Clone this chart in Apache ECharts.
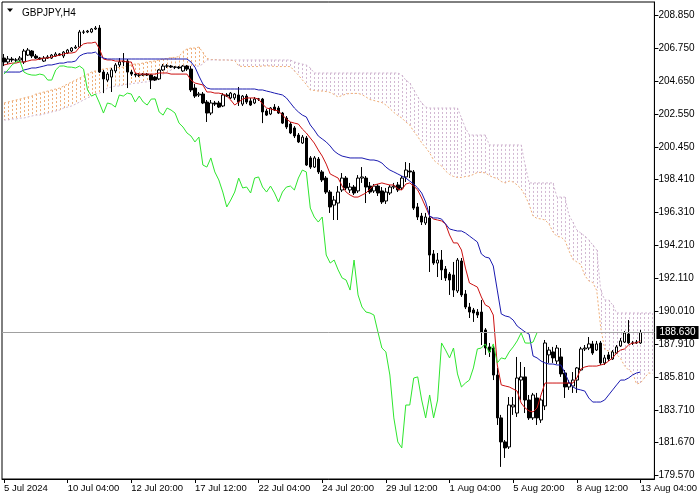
<!DOCTYPE html>
<html><head><meta charset="utf-8">
<script src="https://cdn.jsdelivr.net/npm/echarts@6/dist/echarts.min.js"></script>
<style>html,body{margin:0;padding:0;background:#fff}#c{width:700px;height:500px}</style>
</head><body><div id="c"></div>
<script>
// [open, close, low, high]
const candles = [
[206.11,205.86,205.60,206.37],[205.86,206.05,205.73,206.24],[206.05,205.99,205.86,206.18],[205.99,205.98,205.86,206.11],[205.99,206.11,205.86,206.24],
[205.86,206.56,205.73,206.69],[206.30,206.62,206.24,206.75],[206.56,206.24,206.11,206.62],[206.24,206.11,206.05,206.37],[206.11,206.05,205.99,206.18],
[205.92,206.11,205.86,206.24],[206.11,206.18,206.05,206.30],[206.11,206.30,206.05,206.37],[206.24,206.37,206.18,206.49],[206.37,206.30,206.24,206.43],
[206.24,206.49,206.11,206.56],[206.43,206.62,206.37,206.69],[206.56,206.75,206.49,206.81],[206.75,206.81,206.69,206.94],[206.81,207.77,206.75,207.90],
[207.77,207.76,207.64,207.90],[207.77,207.83,207.70,207.90],[207.77,207.96,207.70,208.02],[207.96,208.02,207.90,208.15],[208.02,205.22,205.16,208.21],
[205.22,204.78,203.88,205.35],[204.71,205.09,204.59,205.22],[204.90,205.35,203.95,205.48],[205.29,205.67,205.16,205.79],[205.67,205.86,205.54,206.11],
[205.86,205.92,205.60,206.43],[205.92,205.22,204.20,206.05],[205.22,205.09,204.97,205.35],[205.09,205.03,204.90,205.16],[205.03,205.02,204.90,205.16],
[205.03,205.09,204.97,205.16],[205.09,205.03,204.97,205.16],[205.03,204.71,204.14,205.09],[204.90,204.71,204.65,204.97],[204.78,205.35,204.71,205.41],
[205.35,205.60,205.29,205.73],[205.60,205.61,205.48,205.73],[205.60,205.54,205.48,205.67],[205.54,205.53,205.41,205.60],[205.54,205.48,205.41,205.60],
[205.29,205.60,205.22,205.67],[205.60,205.41,205.29,205.67],[205.41,204.08,203.95,205.60],[204.20,203.69,203.57,204.46],[203.76,203.82,203.63,203.95],
[203.82,203.25,203.18,203.95],[203.31,202.61,202.04,203.44],[202.61,203.25,202.48,203.44],[203.25,203.18,203.06,203.38],[203.25,202.99,202.93,203.38],
[203.06,203.76,202.99,203.88],[203.76,203.69,203.63,203.88],[203.57,203.88,203.50,203.95],[203.57,203.82,203.44,203.88],[203.76,203.31,203.06,204.27],
[203.18,203.69,203.06,203.76],[203.69,203.31,203.18,203.82],[203.38,203.12,203.06,203.57],[203.25,203.50,203.18,203.63],[203.50,203.51,203.38,203.57],
[203.50,202.68,201.97,203.57],[202.74,202.48,202.42,202.87],[202.55,202.93,202.48,202.99],[202.99,202.80,202.74,203.18],[202.93,202.61,202.55,203.06],
[202.61,201.97,201.91,202.68],[202.29,201.72,201.59,202.42],[201.91,201.34,201.27,202.04],[201.66,201.15,201.02,201.78],[201.21,200.77,200.70,201.34],
[200.70,201.08,200.64,201.21],[201.02,199.30,199.24,201.15],[199.75,199.17,199.05,199.87],[199.17,199.75,199.11,199.87],[199.68,198.86,198.73,199.81],
[198.86,198.35,198.22,198.98],[198.47,197.58,197.46,198.60],[197.58,196.63,196.25,197.71],[196.75,197.07,195.80,197.33],[196.88,197.58,195.80,197.96],
[197.71,198.47,197.58,198.79],[198.47,197.84,197.71,198.60],[197.71,197.90,197.52,198.16],[197.90,197.52,197.39,198.03],[197.65,198.47,197.52,198.66],
[198.47,198.54,198.16,199.17],[198.47,197.90,196.88,198.60],[197.96,197.58,197.46,198.22],[197.65,197.96,197.52,198.09],[197.96,197.52,197.33,198.09],
[197.65,196.95,196.82,197.90],[197.01,197.58,196.82,197.84],[197.52,197.90,197.39,198.03],[197.90,197.96,197.77,198.16],[198.03,197.71,197.58,198.22],
[197.84,198.47,197.71,198.60],[198.54,198.98,198.22,199.49],[198.92,198.86,198.47,199.43],[198.86,196.56,196.44,198.98],[196.63,195.99,195.80,196.88],
[196.05,195.67,195.48,196.25],[195.61,195.99,195.48,196.25],[195.93,193.57,192.49,196.69],[193.64,193.06,192.94,193.89],[193.06,193.25,192.17,193.70],
[193.25,192.62,191.98,193.89],[192.68,192.11,191.92,192.87],[192.36,191.98,191.03,192.49],[192.30,191.34,190.90,193.13],[191.28,193.25,191.15,193.38],
[193.19,191.03,190.90,193.38],[191.09,190.26,190.13,191.34],[190.26,189.94,189.56,190.52],[190.07,189.88,189.31,190.20],[189.94,189.75,189.56,190.13],
[189.94,188.67,187.84,190.71],[188.80,187.65,187.21,188.92],[187.72,187.40,187.08,187.97],[187.65,185.93,185.61,187.78],[185.93,183.20,182.75,186.38],
[183.20,181.67,180.08,183.39],[181.67,181.29,180.65,181.79],[181.35,184.02,181.22,184.53],[183.90,184.02,183.39,184.53],[183.51,185.74,183.26,187.08],
[185.61,185.81,184.34,186.76],[185.81,184.34,183.51,186.44],[184.34,183.20,183.07,184.66],[183.20,184.66,183.07,184.79],[184.47,183.20,182.75,184.79],
[183.07,184.34,182.88,184.47],[183.96,187.97,183.70,188.16],[187.21,187.52,186.70,187.72],[187.40,187.02,186.70,187.72],[186.82,187.65,186.63,187.84],
[187.08,186.00,185.81,187.65],[186.06,185.17,184.47,186.25],[185.17,185.42,184.98,185.61],[185.23,185.61,184.79,186.12],[185.61,186.38,184.79,186.44],
[186.25,187.59,186.19,187.72],[187.59,187.65,187.46,187.84],[187.65,187.91,187.52,188.35],[187.91,187.33,187.21,188.10],[187.52,187.91,187.46,188.10],
[187.97,186.70,186.57,188.10],[186.70,187.02,186.57,187.21],[187.21,186.95,186.82,187.40],[186.95,187.40,186.89,187.52],[187.33,187.72,187.27,187.84],
[187.78,188.10,187.72,188.29],[188.03,188.61,187.97,188.73],[188.54,187.97,187.91,189.43],[187.97,187.96,187.84,188.10],[187.97,188.03,187.91,188.16],
[187.97,188.63,187.91,188.80]
];
const tenkan = [
205.67,205.73,205.79,205.79,205.86,205.86,205.92,205.99,205.99,206.05,
206.11,206.11,206.18,206.24,206.30,206.37,206.43,206.43,206.49,206.81,
207.01,207.07,207.07,207.13,206.69,206.05,205.99,205.99,205.92,205.92,
205.92,205.86,205.86,205.16,205.09,205.09,205.09,205.09,205.09,205.16,
205.16,205.16,205.09,205.09,205.09,205.09,205.09,204.71,204.52,204.46,
204.40,203.95,203.95,203.88,203.88,203.82,203.69,203.44,203.12,203.31,
203.50,203.57,203.57,203.57,203.50,203.18,202.93,202.87,202.80,202.74,
202.48,202.23,202.04,201.97,201.91,201.59,201.34,201.02,200.70,200.26,
199.87,199.36,198.73,198.60,198.47,197.96,197.58,197.39,197.26,197.26,
197.39,197.52,197.77,198.03,198.09,198.16,198.09,198.03,198.03,197.77,
197.71,198.09,198.16,197.96,197.71,197.20,196.63,196.05,195.86,195.80,
195.74,195.55,194.85,194.34,194.34,193.89,192.74,191.79,191.66,191.53,
190.90,190.39,190.26,189.75,186.57,185.30,185.23,185.17,185.04,184.91,
184.15,183.83,183.64,183.58,183.83,184.66,185.42,185.42,185.42,185.42,
185.42,185.42,185.42,185.42,185.74,186.31,186.44,186.50,186.50,186.50,
186.57,186.63,186.82,187.02,187.33,187.52,187.59,187.84,187.97,187.97,
188.10];
const kijun = [
205.22,205.22,205.22,205.22,205.22,205.35,205.41,205.48,205.48,205.54,
205.60,205.67,205.67,205.73,205.79,205.79,205.86,205.86,205.92,206.24,
206.37,206.43,206.43,206.49,206.24,206.11,206.05,206.05,206.05,206.05,
206.05,206.05,206.05,206.05,206.05,206.05,206.05,206.05,206.05,206.05,
206.05,206.05,206.05,206.05,206.05,206.05,206.05,205.86,205.54,204.97,
204.46,204.20,204.14,204.14,204.14,204.14,204.14,204.14,204.14,204.14,
204.14,204.14,204.14,204.14,204.08,204.08,204.01,203.95,203.88,203.82,
203.76,203.57,203.25,202.93,202.68,202.48,202.36,201.85,201.53,201.15,
200.96,200.77,200.51,200.19,200.00,199.87,199.81,199.75,199.75,199.75,
199.75,199.68,199.62,199.62,199.56,199.43,199.17,198.98,198.86,198.73,
198.60,198.47,198.28,198.09,197.84,197.52,196.95,196.05,195.93,195.93,
195.86,195.55,195.23,195.16,195.10,195.10,194.97,194.78,194.59,194.40,
193.64,193.44,193.38,192.87,191.34,189.82,189.69,189.63,189.43,189.05,
188.86,188.67,188.54,187.14,187.02,186.82,186.70,186.63,186.63,186.57,
186.57,186.06,185.49,185.17,185.04,184.98,184.91,184.47,184.21,184.21,
184.21,184.34,184.66,184.98,185.30,185.61,185.61,185.74,185.93,186.06,
186.12];
const senkouA = [
203.25,203.31,203.38,203.44,203.50,203.57,203.63,203.69,203.82,203.88,
203.95,204.01,204.08,204.14,204.20,204.33,204.46,204.59,204.71,204.84,
204.97,205.09,205.22,205.29,205.35,205.41,205.45,205.48,205.51,205.51,
205.54,205.61,205.67,205.74,205.74,205.80,205.86,205.89,205.93,205.99,
206.05,206.08,206.15,206.15,206.21,206.53,206.69,206.75,206.75,206.81,
206.47,206.08,206.02,206.02,205.99,205.99,205.99,205.96,205.96,205.61,
205.57,205.57,205.57,205.57,205.57,205.61,205.61,205.61,205.57,205.57,
205.57,205.57,205.57,205.29,205.03,204.72,204.43,204.08,204.05,204.01,
204.01,203.98,203.92,203.79,203.63,203.73,203.82,203.86,203.86,203.86,
203.79,203.63,203.47,203.41,203.34,203.28,203.12,202.90,202.65,202.45,
202.30,202.04,201.85,201.44,201.12,200.71,200.42,200.07,199.62,199.40,
199.24,198.92,198.70,198.57,198.51,198.51,198.57,198.60,198.70,198.83,
198.83,198.80,198.63,198.51,198.45,198.25,198.16,198.28,198.22,198.03,
197.78,197.36,196.79,196.05,195.90,195.87,195.80,195.55,195.04,194.75,
194.72,194.50,193.86,193.29,193.13,192.97,192.27,191.92,191.82,191.31,
188.96,187.56,187.46,187.40,187.24,186.98,186.51,186.25,186.09,185.36,
185.43,185.74,186.06,186.03];
const senkouB = [
202.17,202.17,202.23,202.23,202.29,202.29,202.36,202.42,202.48,202.48,
202.55,202.61,202.68,202.74,202.80,202.93,202.99,203.06,203.18,203.31,
203.44,203.57,203.69,203.82,203.88,204.01,204.20,204.27,204.33,204.33,
204.40,204.46,204.46,204.52,204.52,204.59,204.59,204.65,204.71,204.84,
205.09,205.22,205.35,205.48,205.54,205.60,205.60,205.60,205.60,205.60,
205.73,205.99,205.99,205.99,205.99,205.99,205.99,205.99,205.99,205.99,
205.99,205.99,205.99,205.99,205.99,205.99,205.99,205.99,205.99,205.99,
205.99,205.99,205.99,205.86,205.79,205.73,205.67,205.48,205.16,205.16,
205.16,205.16,205.16,205.16,205.16,205.16,205.16,205.16,205.16,205.16,
205.16,205.16,205.16,205.16,205.16,205.16,205.16,205.16,205.16,205.16,
205.03,204.71,204.52,204.08,203.63,203.25,202.99,202.93,202.93,202.93,
202.93,202.93,202.93,202.93,202.93,202.29,201.66,201.21,201.21,201.21,
201.21,201.21,200.58,200.58,200.58,200.58,200.58,200.58,200.58,200.58,
200.58,199.30,198.16,198.16,198.16,198.16,198.16,198.16,198.16,197.26,
197.26,197.26,196.12,195.67,195.16,194.97,194.78,194.53,194.21,193.89,
191.34,190.71,190.71,190.39,189.88,189.88,189.88,189.88,189.88,189.88,
189.88,189.88,189.88,189.88];
const xTickIndex = [0,16,32,48,64,80,96,112,128,144,160];
const xTickText = ['5 Jul 2024','10 Jul 04:00','12 Jul 20:00','17 Jul 12:00','22 Jul 04:00','24 Jul 20:00','29 Jul 12:00','1 Aug 04:00','5 Aug 20:00','8 Aug 12:00','13 Aug 04:00'];
const yTickValues = [208.85,206.75,204.65,202.55,200.45,198.41,196.31,194.21,192.11,190.01,187.91,185.81,183.71,181.67,179.57];
const lastPrice = 188.63;
const chikouShift = 26;

const nBars = senkouA.length;
const categories = Array.from({length: nBars}, (_, i) => i);
const chikou = candles.slice(chikouShift).map(d => d[1]);
const cloud = senkouA.map((a, i) => [i, a, senkouB[i]]);
const FONT = 'Liberation Sans';
const UP_KUMO = ['#efae78', '#efae79'];
const DN_KUMO = ['#d2b8d2', '#d2b8d3'];

const chart = echarts.init(document.getElementById('c'), null, {renderer: 'canvas'});
chart.setOption({
  animation: false,
  backgroundColor: '#fff',
  title: {text: 'GBPJPY,H4', left: 17, top: 3,
    textStyle: {fontSize: 10, fontWeight: 'normal', fontFamily: FONT, color: '#000'}},
  graphic: [{type: 'polygon', shape: {points: [[7, 8.5], [13, 8.5], [10, 12]]}, style: {fill: '#000'}}],
  grid: {left: 2, right: 45, top: 2, bottom: 21, show: true, borderColor: '#000', borderWidth: 1, containLabel: false},
  xAxis: {
    type: 'category', data: categories, boundaryGap: true,
    axisLine: {show: true, lineStyle: {color: '#000', width: 1}},
    axisTick: {show: true, alignWithLabel: true, length: 4, interval: (i) => xTickIndex.includes(i), lineStyle: {color: '#000'}},
    axisLabel: {show: true, interval: (i) => xTickIndex.includes(i), align: 'left', margin: 4,
      color: '#000', fontSize: 9.5, fontFamily: FONT,
      formatter: (v) => { const k = xTickIndex.indexOf(Number(v)); return k >= 0 ? xTickText[k] : ''; }},
    splitLine: {show: false}
  },
  yAxis: {
    type: 'value', position: 'right', min: 179.31, max: 209.68,
    axisLine: {show: true, lineStyle: {color: '#000', width: 1}},
    axisTick: {show: true, length: 4, customValues: yTickValues, lineStyle: {color: '#000'}},
    axisLabel: {show: true, customValues: yTickValues, margin: 4, color: '#000', fontSize: 10, fontFamily: FONT,
      formatter: (v) => v.toFixed(3)},
    splitLine: {show: false}
  },
  series: [
    {
      type: 'custom', name: 'Kumo', data: cloud, silent: true, z: 1,
      encode: {x: 0, y: [1, 2]},
      renderItem: function (params, api) {
        const i = api.value(0), a = api.value(1), b = api.value(2);
        const pa = api.coord([i, a]), pb = api.coord([i, b]);
        const x = Math.round(pa[0]) + 0.5;
        const pal = a >= b ? UP_KUMO : DN_KUMO;
        return {type: 'line', shape: {x1: x, y1: Math.min(pa[1], pb[1]), x2: x, y2: Math.max(pa[1], pb[1])},
          style: {stroke: pal[params.dataIndex % 2], fill: null, lineWidth: 1, lineDash: [2, 2]}};
      }
    },
    {type: 'line', name: 'Senkou A', data: senkouA, showSymbol: false, silent: true, z: 2,
      lineStyle: {color: UP_KUMO[0], width: 1, type: [2, 2]}},
    {type: 'line', name: 'Senkou B', data: senkouB, showSymbol: false, silent: true, z: 2,
      lineStyle: {color: DN_KUMO[0], width: 1, type: [2, 2]}},
    {
      type: 'candlestick', name: 'GBPJPY', data: candles, barWidth: 3, z: 3,
      itemStyle: {color: '#fff', color0: '#000', borderColor: '#000', borderColor0: '#000', borderWidth: 1},
      markLine: {
        silent: true, symbol: ['none', 'none'],
        lineStyle: {color: '#a0a0a0', width: 1, type: 'solid'},
        label: {show: true, position: 'end', distance: 2, formatter: () => lastPrice.toFixed(3),
          color: '#fff', backgroundColor: '#000', padding: [2, 3, 1, 3], fontSize: 10, fontFamily: FONT},
        data: [{yAxis: lastPrice}]
      }
    },
    {type: 'line', name: 'Tenkan', data: tenkan, showSymbol: false, silent: true, z: 4,
      lineStyle: {color: '#cc1010', width: 1}},
    {type: 'line', name: 'Kijun', data: kijun, showSymbol: false, silent: true, z: 4,
      lineStyle: {color: '#1a1ab0', width: 1}},
    {type: 'line', name: 'Chikou', data: chikou, showSymbol: false, silent: true, z: 4,
      lineStyle: {color: '#2ee62e', width: 1}}
  ]
});
</script>
</body></html>
